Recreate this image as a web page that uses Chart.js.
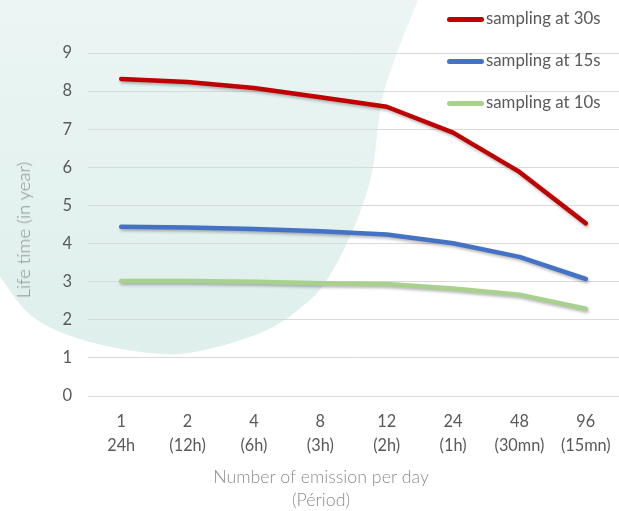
<!DOCTYPE html>
<html>
<head>
<meta charset="utf-8">
<script src="https://cdn.jsdelivr.net/npm/chart.js@4.4.0/dist/chart.umd.min.js"></script>
<style>
  html, body { margin: 0; padding: 0; background: #ffffff; }
  #wrap { position: relative; width: 619px; height: 511px; overflow: hidden; font-family: Lato, "Open Sans", sans-serif; }
  #c { position: absolute; left: 0; top: 0; }
  .legend { position: absolute; left: 447px; top: 0; }
  .li { position: absolute; left: 0; height: 20px; white-space: nowrap; color: #595959; font-size: 16.8px; line-height: 20px; }
  .li span.sw { position: absolute; left: 0; top: 8px; width: 37px; height: 4.5px; border-radius: 3px; }
  .li span.tx { position: absolute; left: 39px; top: -1px; }
  .ytitle { position: absolute; left: 23px; top: 230px; transform: translate(-50%, -50%) rotate(-90deg); white-space: nowrap; color: #8c8c8c; font-size: 18.5px; font-weight: 300; }
  .xtitle { position: absolute; left: 321px; top: 465px; transform: translateX(-50%); text-align: center; color: #8c8c8c; font-size: 17.8px; font-weight: 300; line-height: 23px; white-space: nowrap; }
</style>
</head>
<body>
<div id="wrap">
  <canvas id="c" width="619" height="511"></canvas>
  <div class="legend" id="legend"></div>
  <div class="ytitle">Life time (in year)</div>
  <div class="xtitle">Number of emission per day<br>(Périod)</div>
</div>
<script>
const categories = [["1","24h"],["2","(12h)"],["4","(6h)"],["8","(3h)"],["12","(2h)"],["24","(1h)"],["48","(30mn)"],["96","(15mn)"]];
const seriesNames = ["sampling at 30s","sampling at 15s","sampling at 10s"];
const sampling30 = [8.32, 8.24, 8.08, 7.84, 7.59, 6.91, 5.88, 4.53];
const sampling15 = [4.44, 4.42, 4.38, 4.32, 4.24, 4.01, 3.65, 3.07];
const sampling10 = [3.02, 3.02, 3.00, 2.96, 2.94, 2.82, 2.66, 2.29];
const yTicks = [0,1,2,3,4,5,6,7,8,9];

const colors = ["#C00000", "#4472C4", "#A9D18E"];

// decorative background blob outline (style only)
const blobEdge = [[418,0],[397,53],[382,100],[373,167],[362,207],[347,243],[330,275],[310,300],[267,330],[200,351],[150,353],[83,340],[33,317],[0,277]];

const bgPlugin = {
  id: 'bg',
  beforeDraw(chart) {
    const ctx = chart.ctx;
    ctx.save();
    ctx.fillStyle = '#ffffff';
    ctx.fillRect(0, 0, chart.width, chart.height);
    const g = ctx.createLinearGradient(0, 0, 0, 360);
    g.addColorStop(0, '#EBF5F4');
    g.addColorStop(1, '#DEEFEC');
    ctx.fillStyle = g;
    ctx.beginPath();
    ctx.moveTo(0, 0);
    const p = blobEdge;
    ctx.lineTo(p[0][0], p[0][1]);
    for (let i = 0; i < p.length - 1; i++) {
      const p0 = p[Math.max(0, i - 1)], p1 = p[i], p2 = p[i + 1], p3 = p[Math.min(p.length - 1, i + 2)];
      const c1x = p1[0] + (p2[0] - p0[0]) / 6, c1y = p1[1] + (p2[1] - p0[1]) / 6;
      const c2x = p2[0] - (p3[0] - p1[0]) / 6, c2y = p2[1] - (p3[1] - p1[1]) / 6;
      ctx.bezierCurveTo(c1x, c1y, c2x, c2y, p2[0], p2[1]);
    }
    ctx.closePath();
    ctx.fill();
    ctx.restore();
  }
};

const shadowPlugin = {
  id: 'shadow',
  beforeDatasetsDraw(chart) {
    const ctx = chart.ctx;
    ctx.save();
    ctx.shadowColor = 'rgba(0,0,0,0.28)';
    ctx.shadowBlur = 3;
    ctx.shadowOffsetX = 1;
    ctx.shadowOffsetY = 2;
  },
  afterDatasetsDraw(chart) {
    chart.ctx.restore();
  }
};

const dataSeries = [sampling30, sampling15, sampling10];

new Chart(document.getElementById('c'), {
  type: 'line',
  data: {
    labels: categories,
    datasets: dataSeries.map((d, i) => ({
      label: seriesNames[i],
      data: d,
      borderColor: colors[i],
      backgroundColor: colors[i],
      borderWidth: 4.5,
      borderCapStyle: 'round',
      borderJoinStyle: 'round',
      pointRadius: 0,
      tension: 0,
      fill: false
    }))
  },
  options: {
    responsive: false,
    animation: false,
    devicePixelRatio: 1,
    layout: { padding: { top: 53, right: -5, bottom: 0, left: 0 } },
    plugins: { legend: { display: false }, tooltip: { enabled: false } },
    scales: {
      x: {
        offset: true,
        grid: { display: false },
        border: { display: false },
        ticks: {
          color: '#595959',
          font: { family: 'Lato', size: 16.3, lineHeight: 1.48 },
          padding: 6,
          maxRotation: 0,
          autoSkip: false
        },
        afterFit(scale) { scale.height = 115; }
      },
      y: {
        min: 0,
        max: 9,
        afterBuildTicks(scale) { scale.ticks = yTicks.map(v => ({ value: v })); },
        grid: { color: '#D9D9D9', lineWidth: 1, drawTicks: false },
        border: { display: false },
        ticks: {
          color: '#595959',
          font: { family: 'Lato', size: 16.5 },
          padding: 16
        },
        afterFit(scale) { scale.width = 88; }
      }
    }
  },
  plugins: [bgPlugin, shadowPlugin]
});

const legendTops = [9, 51, 93];
const lg = document.getElementById('legend');
seriesNames.forEach((n, i) => {
  const d = document.createElement('div');
  d.className = 'li';
  d.style.top = legendTops[i] + 'px';
  d.innerHTML = '<span class="sw" style="background:' + colors[i] + '"></span><span class="tx">' + n + '</span>';
  lg.appendChild(d);
});
</script>
</body>
</html>
